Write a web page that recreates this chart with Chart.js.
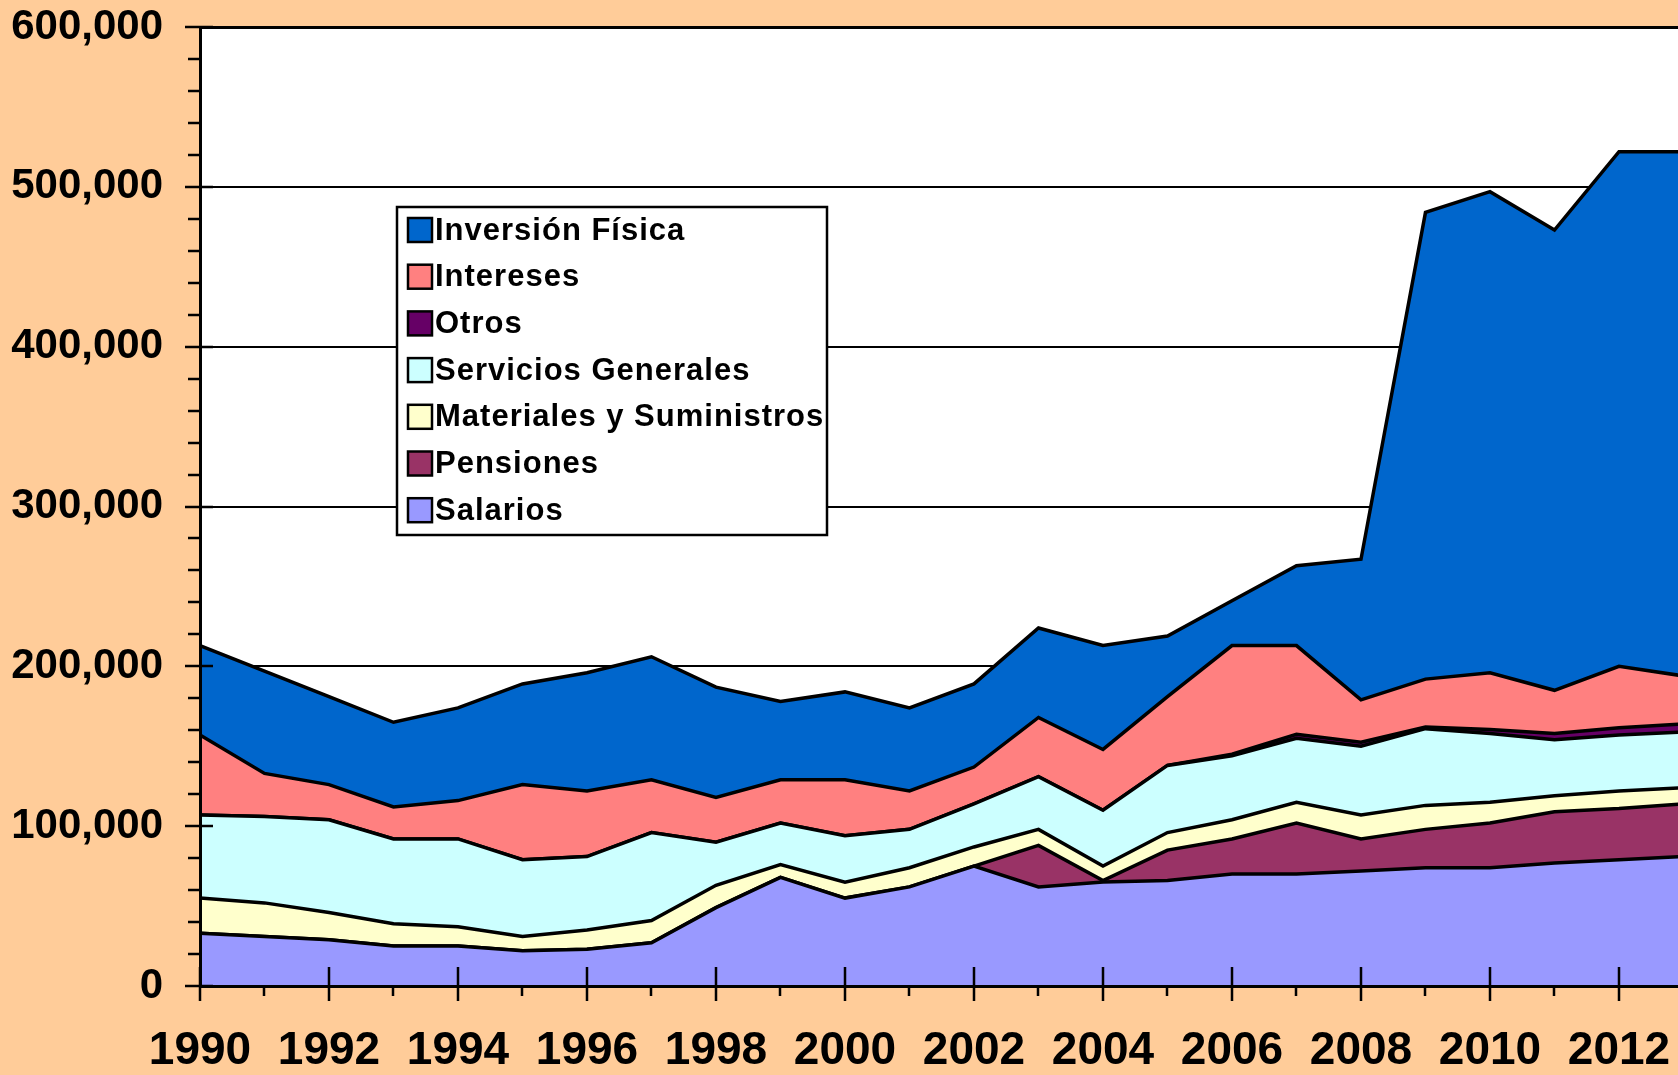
<!DOCTYPE html>
<html>
<head>
<meta charset="utf-8">
<script src="https://cdn.jsdelivr.net/npm/chart.js@4.4.1/dist/chart.umd.min.js"></script>
<style>
  html, body { margin: 0; padding: 0; background: #FFCC99; overflow: hidden; }
  #wrap { width: 1678px; height: 1075px; }
</style>
</head>
<body>
<div id="wrap"><canvas id="myChart" width="1678" height="1075"></canvas></div>
<script>
var years = [1990, 1991, 1992, 1993, 1994, 1995, 1996, 1997, 1998, 1999, 2000, 2001,
             2002, 2003, 2004, 2005, 2006, 2007, 2008, 2009, 2010, 2011, 2012, 2013];

// values in thousands, stacked from the bottom up
var salarios   = [33, 31, 29, 25, 25, 22, 23, 27, 49, 68, 55, 62, 75, 62, 65, 66, 70, 70, 72, 74, 74, 77, 79, 81];
var pensiones  = [0, 0, 0, 0, 0, 0, 0, 0, 0, 0, 0, 0, 0, 26, 1, 19, 22, 32, 20, 24, 28, 32, 32, 33];
var materiales = [22, 21, 17, 14, 12, 9, 12, 14, 14, 8, 10, 12, 12, 10, 9, 11, 12, 13, 15, 15, 13, 10, 11, 10];
var servicios  = [52, 54, 58, 53, 55, 48, 46, 55, 27, 26, 29, 24, 27, 33, 35, 42, 40, 40, 43, 48, 43, 35, 35, 35];
var otros      = [0, 0, 0, 0, 0, 0, 0, 0, 0, 0, 0, 0, 0, 0, 0, 0, 1, 2.5, 2.5, 1, 2.5, 4, 4.5, 5];
var intereses  = [50, 27, 22, 20, 24, 47, 41, 33, 28, 27, 35, 24, 23, 37, 38, 43, 68, 55.5, 26.5, 30, 35.5, 27, 38.5, 30];
var inversion  = [56, 64, 55, 53, 58, 63, 74, 77, 69, 49, 55, 52, 52, 56, 65, 38, 28, 50, 88, 292, 301, 288, 322, 328];

var yTicks = [0, 100000, 200000, 300000, 400000, 500000, 600000];

var FONT = "'Liberation Sans', Arial, sans-serif";

function series(vals) {
  return years.map(function (yr, i) { return { x: yr, y: vals[i] * 1000 }; });
}

function area(label, vals, color, fill) {
  return {
    label: label,
    data: series(vals),
    backgroundColor: color,
    borderColor: '#000000',
    borderWidth: 3.5,
    pointRadius: 0,
    tension: 0,
    fill: fill
  };
}

// background, plot area, tick marks and the boxed legend
const decor = {
  id: 'decor',
  beforeDraw(chart) {
    const c = chart.ctx, a = chart.chartArea;
    c.save();
    c.fillStyle = '#FFCC99';
    c.fillRect(0, 0, chart.width, chart.height);
    c.fillStyle = '#FFFFFF';
    c.fillRect(a.left, a.top, a.right - a.left, a.bottom - a.top);
    c.restore();
  },
  afterDraw(chart) {
    const c = chart.ctx, a = chart.chartArea;
    const xs = chart.scales.x, ys = chart.scales.y;
    c.save();
    c.strokeStyle = '#000';
    c.lineWidth = 2.5;
    c.beginPath();
    years.forEach(function (yr) {
      const px = Math.round(xs.getPixelForValue(yr));
      if (yr % 2 === 0) {
        c.moveTo(px, a.bottom - 19); c.lineTo(px, a.bottom + 15);
      } else {
        c.moveTo(px, a.bottom); c.lineTo(px, a.bottom + 10);
      }
    });
    for (let v = 0; v <= 600000; v += 20000) {
      const py = Math.round(ys.getPixelForValue(v));
      if (v % 100000 === 0) {
        c.moveTo(a.left - 15, py); c.lineTo(a.left + 13, py);
      } else {
        c.moveTo(a.left - 12, py); c.lineTo(a.left, py);
      }
    }
    c.stroke();

    // legend box
    const lx = 397, ly = 207, lw = 430, lh = 328;
    c.fillStyle = '#FFFFFF';
    c.fillRect(lx, ly, lw, lh);
    c.lineWidth = 2.5;
    c.strokeRect(lx, ly, lw, lh);
    c.font = 'bold 31px ' + FONT;
    c.letterSpacing = '1px';
    c.textBaseline = 'middle';
    c.textAlign = 'left';
    const ds = chart.data.datasets.slice().reverse();
    ds.forEach(function (d, i) {
      const cy = 230 + i * 46.7;
      c.fillStyle = d.backgroundColor;
      c.fillRect(408, cy - 12, 24, 24);
      c.lineWidth = 2.5;
      c.strokeStyle = '#000';
      c.strokeRect(408, cy - 12, 24, 24);
      c.fillStyle = '#000';
      c.fillText(d.label, 435, cy + 1);
    });
    c.restore();
  }
};

const config = {
  type: 'line',
  data: {
    datasets: [
      area('Salarios', salarios, '#9999FF', 'origin'),
      area('Pensiones', pensiones, '#993366', '-1'),
      area('Materiales y Suministros', materiales, '#FFFFCC', '-1'),
      area('Servicios Generales', servicios, '#CCFFFF', '-1'),
      area('Otros', otros, '#660066', '-1'),
      area('Intereses', intereses, '#FF8080', '-1'),
      area('Inversión Física', inversion, '#0066CC', '-1')
    ]
  },
  options: {
    responsive: false,
    animation: false,
    layout: { autoPadding: false, padding: { top: 27, right: 0, bottom: 0, left: 0 } },
    plugins: { legend: { display: false }, tooltip: { enabled: false } },
    scales: {
      x: {
        type: 'linear',
        min: 1990,
        max: 2012.915,
        afterFit: function (s) { s.height = 89; },
        grid: { display: true, drawOnChartArea: false, drawTicks: true, tickLength: 38, tickColor: 'rgba(0,0,0,0)' },
        border: { display: true, color: '#000', width: 3, z: 1 },
        ticks: {
          stepSize: 2,
          autoSkip: false,
          includeBounds: false,
          maxRotation: 0,
          padding: 0,
          color: '#000',
          font: { family: FONT, size: 46, weight: 'bold' },
          callback: function (v) { return String(v); }
        }
      },
      y: {
        stacked: true,
        min: 0,
        max: 600000,
        afterFit: function (s) { s.width = 200; },
        afterBuildTicks: function (s) { s.ticks = yTicks.map(function (v) { return { value: v }; }); },
        grid: {
          color: '#000',
          drawTicks: true,
          tickLength: 37,
          tickColor: 'rgba(0,0,0,0)',
          lineWidth: function (c) { return c.tick && c.tick.value === 600000 ? 3 : 2; }
        },
        border: { display: true, color: '#000', width: 3, z: 1 },
        ticks: {
          padding: 0,
          color: '#000',
          font: { family: FONT, size: 42, weight: 'bold' },
          callback: function (v) { return v.toLocaleString('en-US'); }
        }
      }
    }
  },
  plugins: [decor]
};

var ctx = document.getElementById('myChart');
var myChart = new Chart(ctx, config);
</script>
</body>
</html>
